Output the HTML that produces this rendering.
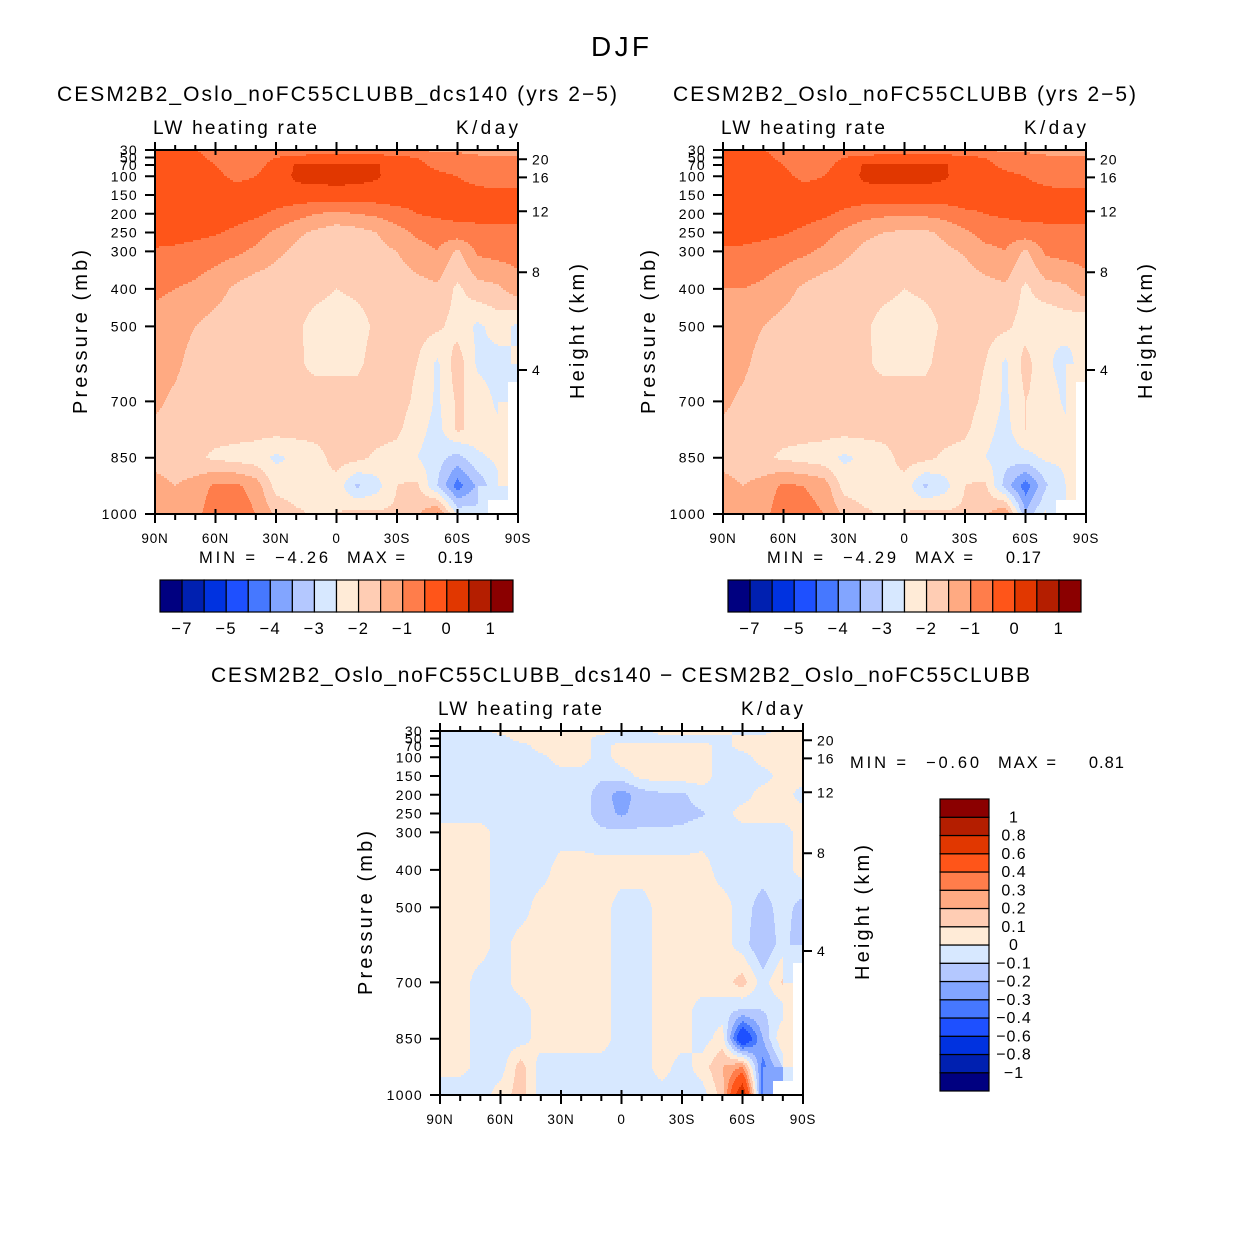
<!DOCTYPE html>
<html><head><meta charset="utf-8"><style>
html,body{margin:0;padding:0;background:#fff}
svg text{font-family:"Liberation Sans",sans-serif;fill:#000}
</style></head><body>
<svg id="fig" xmlns="http://www.w3.org/2000/svg" width="1242" height="1244" viewBox="0 0 1242 1244">
<rect x="0" y="0" width="1242" height="1244" fill="#fff"/>
<text x="591" y="56" font-size="28" textLength="58" lengthAdjust="spacing">DJF</text>
</svg>
<script>
const lats=[90,80,70,60,50,40,30,20,10,0,-10,-20,-30,-40,-50,-60,-70,-80,-90];
const levelsP=[30,50,70,100,150,200,250,300,400,500,600,700,775,850,925,1000];
const colors=["#000080","#0020b0","#0032e0","#1e50ff","#4678ff","#82a5ff","#b4c8ff","#d7e8ff","#ffebd7","#ffcdb4","#ffaa82","#ff7d4b","#ff5519","#e13700","#b41e00","#8b0000"];
const contourLevelsAbs=[-7,-6,-5,-4.5,-4,-3.5,-3,-2.5,-2,-1.5,-1,-0.5,0,0.5,1];
const contourLevelsDiff=[-1,-0.8,-0.6,-0.4,-0.3,-0.2,-0.1,0,0.1,0.2,0.3,0.4,0.6,0.8,1];
const absBarLabels=["−7","","−5","","−4","","−3","","−2","","−1","","0","","1"];
const diffBarLabels=["−1","−0.8","−0.6","−0.4","−0.3","−0.2","−0.1","0","0.1","0.2","0.3","0.4","0.6","0.8","1"];
const pTicks=[30,50,70,100,150,200,250,300,400,500,700,850,1000];
const hTicks=[20,16,12,8,4];
const latTicks=[90,60,30,0,-30,-60,-90];
const latTickLabels=["90N","60N","30N","0","30S","60S","90S"];
const N=NaN;
const fieldCtl=[
[-0.4,-0.4,-0.5,-0.6,-0.7,-0.8,-0.8,-0.8,-0.8,-0.8,-0.8,-0.8,-0.9,-1.0,-1.1,-1.1,-1.2,-1.2,-1.2],
[-0.3,-0.3,-0.4,-0.6,-0.7,-0.6,-0.5,-0.4,-0.3,-0.3,-0.3,-0.3,-0.4,-0.5,-0.7,-0.8,-0.9,-0.9,-0.9],
[-0.2,-0.2,-0.3,-0.5,-0.7,-0.6,-0.4,0.05,0.1,0.1,0.1,0.05,-0.3,-0.4,-0.6,-0.7,-0.8,-0.8,-0.8],
[-0.2,-0.2,-0.2,-0.4,-0.6,-0.5,-0.3,0.1,0.15,0.19,0.15,0.05,-0.2,-0.3,-0.4,-0.5,-0.6,-0.7,-0.7],
[-0.2,-0.2,-0.2,-0.2,-0.3,-0.3,-0.2,-0.2,-0.2,-0.2,-0.2,-0.2,-0.2,-0.3,-0.3,-0.4,-0.4,-0.4,-0.4],
[-0.2,-0.2,-0.25,-0.3,-0.3,-0.4,-0.6,-0.8,-1.0,-1.1,-1.0,-0.9,-0.7,-0.5,-0.4,-0.35,-0.3,-0.3,-0.3],
[-0.3,-0.3,-0.35,-0.45,-0.6,-0.8,-1.1,-1.4,-1.6,-1.8,-1.7,-1.5,-1.2,-0.9,-0.8,-0.7,-0.7,-0.7,-0.7],
[-0.55,-0.6,-0.7,-0.8,-0.9,-1.1,-1.4,-1.6,-1.8,-1.85,-1.8,-1.65,-1.5,-1.2,-1.0,-1.6,-0.9,-0.8,-0.8],
[-0.9,-1.0,-1.1,-1.3,-1.6,-1.8,-1.8,-1.8,-1.85,-2.0,-1.9,-1.8,-1.8,-1.7,-1.6,-2.1,-1.7,-1.6,-1.2],
[-1.2,-1.3,-1.5,-1.7,-1.8,-1.8,-1.8,-1.9,-2.2,-2.3,-2.2,-1.9,-1.8,-1.8,-1.9,-2.2,-2.6,-2.3,-2.6],
[-1.3,-1.4,-1.7,-1.8,-1.8,-1.8,-1.8,-1.9,-2.15,-2.2,-2.1,-1.8,-1.8,-2.0,-2.6,-1.7,-2.6,-2.7,-2.4],
[-1.4,-1.6,-1.8,-1.8,-1.8,-1.8,-1.8,-1.8,-1.7,-1.55,-1.8,-1.8,-1.8,-2.1,-2.6,-1.9,-2.2,-2.6,N],
[-1.6,-1.7,-1.8,-1.8,-1.8,-1.8,-1.8,-1.8,-1.8,-1.7,-1.8,-1.8,-1.9,-2.3,-2.7,-1.9,-2.2,-2.4,N],
[-1.7,-1.8,-1.9,-2.1,-2.2,-2.3,-2.6,-2.4,-2.2,-1.8,-1.85,-2.1,-2.2,-2.5,-2.8,-3.2,-2.6,-2.4,N],
[-1.3,-1.5,-1.3,-0.9,-0.9,-1.2,-2.2,-2.3,-2.1,-2.2,-3.1,-2.7,-2.0,-1.9,-3.0,-4.26,-3.4,-2.6,N],
[-1.3,-1.3,-1.2,-0.6,-0.7,-1.0,-1.6,-1.9,-2.1,-2.0,-1.8,-1.9,-1.9,-1.6,-0.9,-2.6,-2.8,N,N]];
const fieldExp=[
[-0.4,-0.4,-0.5,-0.6,-0.7,-0.8,-0.8,-0.8,-0.8,-0.8,-0.8,-0.8,-0.9,-1.0,-1.1,-1.1,-1.2,-1.2,-1.2],
[-0.3,-0.3,-0.4,-0.6,-0.7,-0.6,-0.5,-0.4,-0.3,-0.3,-0.3,-0.3,-0.4,-0.5,-0.7,-0.8,-0.9,-0.9,-0.9],
[-0.2,-0.2,-0.3,-0.5,-0.7,-0.6,-0.4,0.05,0.1,0.1,0.1,0.05,-0.3,-0.4,-0.6,-0.7,-0.8,-0.8,-0.8],
[-0.2,-0.2,-0.2,-0.4,-0.6,-0.5,-0.3,0.1,0.15,0.17,0.15,0.05,-0.2,-0.3,-0.4,-0.5,-0.6,-0.7,-0.7],
[-0.2,-0.2,-0.2,-0.2,-0.3,-0.3,-0.2,-0.2,-0.2,-0.2,-0.2,-0.2,-0.2,-0.3,-0.3,-0.4,-0.4,-0.4,-0.4],
[-0.2,-0.2,-0.25,-0.3,-0.3,-0.4,-0.6,-0.8,-0.9,-0.9,-0.9,-0.8,-0.6,-0.5,-0.4,-0.35,-0.3,-0.3,-0.3],
[-0.3,-0.3,-0.35,-0.45,-0.6,-0.8,-1.1,-1.4,-1.5,-1.6,-1.6,-1.4,-1.1,-0.8,-0.8,-0.7,-0.7,-0.7,-0.7],
[-0.6,-0.6,-0.7,-0.8,-0.9,-1.1,-1.4,-1.6,-1.75,-1.8,-1.75,-1.6,-1.45,-1.15,-1.0,-1.6,-0.9,-0.8,-0.8],
[-1.0,-1.0,-1.1,-1.3,-1.6,-1.8,-1.8,-1.8,-1.85,-2.0,-1.9,-1.8,-1.8,-1.7,-1.6,-2.1,-1.7,-1.6,-1.2],
[-1.2,-1.3,-1.5,-1.7,-1.8,-1.8,-1.8,-1.9,-2.2,-2.3,-2.2,-1.9,-1.8,-1.8,-1.9,-2.2,-2.5,-2.3,-2.5],
[-1.3,-1.4,-1.7,-1.8,-1.8,-1.8,-1.8,-1.9,-2.15,-2.2,-2.1,-1.8,-1.8,-2.0,-2.6,-1.8,-2.4,-2.7,-2.2],
[-1.4,-1.6,-1.8,-1.8,-1.8,-1.8,-1.8,-1.8,-1.7,-1.55,-1.8,-1.8,-1.8,-2.1,-2.6,-2.0,-2.2,-2.6,N],
[-1.6,-1.7,-1.8,-1.8,-1.8,-1.8,-1.8,-1.8,-1.8,-1.7,-1.8,-1.8,-1.9,-2.3,-2.7,-2.0,-2.1,-2.4,N],
[-1.7,-1.8,-1.9,-2.1,-2.2,-2.3,-2.6,-2.4,-2.2,-1.8,-1.85,-2.1,-2.2,-2.5,-2.8,-2.7,-2.4,-2.4,N],
[-1.3,-1.5,-1.3,-0.9,-1.0,-1.2,-2.2,-2.3,-2.1,-2.2,-3.1,-2.7,-2.0,-1.9,-3.2,-4.29,-3.1,-2.5,N],
[-1.2,-1.2,-1.2,-0.6,-0.8,-1.0,-1.6,-1.9,-2.1,-2.0,-1.8,-1.9,-1.9,-1.6,-1.0,-3.4,-2.4,N,N]];
const fieldDiff=[
[-0.05,-0.05,-0.05,0.05,0.05,0.05,0.05,0.05,0.05,-0.05,-0.05,0.05,0.05,0.05,0.05,-0.05,-0.05,0.05,0.05],
[-0.05,-0.05,-0.05,-0.05,0.05,0.05,0.05,0.05,-0.05,-0.05,-0.05,-0.05,-0.05,-0.05,-0.05,0.05,0.05,0.05,0.05],
[-0.05,-0.05,-0.05,-0.05,-0.05,0.05,0.05,0.05,-0.05,0.05,0.05,0.05,0.05,0.05,-0.05,0.05,0.05,0.05,0.05],
[-0.05,-0.05,-0.05,-0.05,-0.05,-0.03,0.05,0.05,-0.05,0.05,0.05,0.05,0.05,0.05,-0.05,-0.05,0.05,0.05,0.05],
[-0.05,-0.05,-0.05,-0.05,-0.05,-0.05,-0.05,-0.05,-0.08,-0.05,0.03,0.05,0.05,0.05,-0.05,-0.05,-0.05,0.05,0.05],
[-0.05,-0.05,-0.05,-0.05,-0.05,-0.05,-0.05,-0.05,-0.15,-0.25,-0.15,-0.12,-0.12,-0.05,-0.05,-0.05,0.05,0.05,-0.05],
[-0.05,-0.05,-0.05,-0.05,-0.05,-0.05,-0.05,-0.05,-0.15,-0.22,-0.15,-0.15,-0.13,-0.11,-0.05,0.05,0.05,0.05,0.05],
[0.05,0.05,0.05,-0.05,-0.05,-0.05,-0.05,-0.05,-0.08,-0.08,-0.08,-0.08,-0.08,-0.05,-0.05,-0.05,-0.05,-0.05,0.05],
[0.05,0.05,0.05,-0.05,-0.05,-0.05,0.05,0.05,0.05,0.05,0.05,0.05,0.05,0.05,-0.05,-0.05,-0.05,-0.05,0.05],
[0.05,0.05,0.05,-0.05,-0.05,0.05,0.05,0.05,0.05,-0.05,-0.05,0.05,0.05,0.05,0.05,-0.05,-0.15,-0.05,-0.15],
[0.05,0.05,0.05,-0.05,0.05,0.05,0.05,0.05,0.05,-0.05,-0.05,0.05,0.05,0.05,0.05,-0.05,-0.2,-0.05,-0.2],
[0.05,0.05,-0.05,-0.05,0.05,0.05,0.05,0.05,0.05,-0.05,-0.05,0.05,0.05,0.05,0.05,0.15,-0.05,0.12,N],
[0.05,0.05,-0.05,-0.05,-0.05,0.05,0.05,0.05,0.05,-0.05,-0.05,0.05,0.05,-0.05,-0.05,-0.12,-0.1,-0.05,N],
[0.05,0.05,-0.05,-0.05,-0.05,0.05,0.05,0.05,0.05,-0.05,-0.05,0.05,0.05,-0.05,0.05,-0.6,-0.2,0.1,N],
[0.05,0.05,-0.05,-0.05,0.15,-0.05,-0.05,-0.05,-0.05,-0.05,-0.05,0.05,-0.05,0.05,0.2,0.3,-0.35,-0.1,N],
[-0.1,-0.1,-0.05,0.05,0.15,-0.05,-0.05,-0.05,-0.05,-0.05,-0.05,-0.05,-0.05,-0.05,0.15,0.81,-0.4,N,N]];

const NS="http://www.w3.org/2000/svg";
const fig=document.getElementById('fig');
function mk(tag,attrs,parent){const e=document.createElementNS(NS,tag);for(const k in attrs)e.setAttribute(k,attrs[k]);(parent||fig).appendChild(e);return e;}
function txt(x,y,s,size,anchor,parent,name,len,ls){const a={x:x,y:y,'font-size':size,'text-anchor':anchor||'start'};
  if(len){a.textLength=len;a.lengthAdjust='spacing';}
  if(ls)a['letter-spacing']=ls;
  const t=mk('text',a,parent);t.textContent=s;


return t;}
const PW=363,PH=364;
function makeScales(x0,y0){return {x:lat=>x0+(90-lat)/180*PW, y:p=>y0+(p-30)/970*PH};}
function heightToP(z){return z<=11?1013.25*Math.pow(1-z/44.3,5.256):226.3*Math.exp(-(z-11)/6.34);}
function sample(grid,lat,p){
  let fi=(90-lat)/10; let i0=Math.min(17,Math.max(0,Math.floor(fi))); let tx=fi-i0;
  let k=0; while(k<levelsP.length-2 && p>levelsP[k+1])k++;
  let ty=(p-levelsP[k])/(levelsP[k+1]-levelsP[k]);
  const a=grid[k][i0],b=grid[k][i0+1],c=grid[k+1][i0],d=grid[k+1][i0+1];
  if(isNaN(a)||isNaN(b)||isNaN(c)||isNaN(d)){
    const nv=grid[ty<0.5?k:k+1][tx<0.5?i0:i0+1]; if(isNaN(nv))return NaN;
    const vals=[a,b,c,d].filter(v=>!isNaN(v)); return vals.reduce((s,v)=>s+v,0)/vals.length;
  }
  return (a*(1-tx)+b*tx)*(1-ty)+(c*(1-tx)+d*tx)*ty;
}
function colorIdx(v,lev){let i=0;while(i<lev.length&&v>=lev[i])i++;return i;}
function drawPanel(cfg){
  const g=mk('g',{});
  
  
  const s=makeScales(cfg.x0,cfg.y0);
  const field=mk('g',{},g);
  
  
  const step=2;
  for(let py=0;py<PH;py+=step){
    const p=30+(py+step/2)/PH*970;
    let runStart=0,runC=null;
    for(let px=0;px<=PW;px++){
      let c=null;
      if(px<PW){const lat=90-(px+0.5)/PW*180;const v=sample(cfg.grid,lat,p);c=isNaN(v)?'#ffffff':colors[colorIdx(v,cfg.levels)];}
      if(c!==runC){
        if(runC!==null){const r=mk('rect',{x:cfg.x0+runStart,y:cfg.y0+py,width:px-runStart+0.6,height:step+0.6,fill:runC},field);
          
          }
        runStart=px;runC=c;
      }
    }
  }
  const fr=mk('rect',{x:cfg.x0,y:cfg.y0,width:PW,height:PH,fill:'none',stroke:'#000','stroke-width':2},g);
  
  
  let d='';
  for(let lat=90;lat>=-90;lat-=10){const x=s.x(lat);const major=lat%30===0;
    d+=`M${x},${cfg.y0+PH+(major?9:6)}V${cfg.y0+PH-(major?5:0)}M${x},${cfg.y0-(major?8:5)}V${cfg.y0+(major?5:0)}`;}
  pTicks.forEach(p=>{const y=s.y(p);d+=`M${cfg.x0-10},${y}H${cfg.x0}`;});
  hTicks.forEach(z=>{const y=s.y(heightToP(z));d+=`M${cfg.x0+PW},${y}H${cfg.x0+PW+9}`;});
  const tk=mk('path',{d:d,stroke:'#000','stroke-width':2,fill:'none'},g);
  
  
  latTicks.forEach((lat,i)=>txt(s.x(lat),cfg.y0+PH+29,latTickLabels[i],13.5,'middle',g,'x-tick-label',null,0.8));
  pTicks.forEach(p=>txt(cfg.x0-17,s.y(p)+5,String(p),14,'end',g,'y-tick-label',null,1.3));
  hTicks.forEach(z=>txt(cfg.x0+PW+14,s.y(heightToP(z))+5,String(z),14,'start',g,'height-tick-label',null,1));
  const yl=txt(-82,0,'Pressure (mb)',20,'start',g,'y-axis-title',164);yl.setAttribute('transform',`translate(${cfg.x0-68},${cfg.y0+182}) rotate(-90)`);
  const hl=txt(-67,0,'Height (km)',20,'start',g,'height-axis-title',135);hl.setAttribute('transform',`translate(${cfg.x0+PW+66},${cfg.y0+182}) rotate(-90)`);
  txt(cfg.x0-2,cfg.y0-16,'LW heating rate',19,'start',g,'variable-label',164);
  txt(cfg.x0+PW-62,cfg.y0-16,'K/day',19,'start',g,'units-label',62);
  txt(cfg.tx,cfg.ty,cfg.title,21,'start',g,'panel-title',cfg.tw);
  return g;
}
drawPanel({name:'panel-control-dcs140',grid:fieldCtl,levels:contourLevelsAbs,x0:155,y0:150,tx:57,tw:560,ty:101,title:'CESM2B2_Oslo_noFC55CLUBB_dcs140 (yrs 2−5)'});
drawPanel({name:'panel-noFC55CLUBB',grid:fieldExp,levels:contourLevelsAbs,x0:723,y0:150,tx:673,tw:463,ty:101,title:'CESM2B2_Oslo_noFC55CLUBB (yrs 2−5)'});
drawPanel({name:'panel-difference',grid:fieldDiff,levels:contourLevelsDiff,x0:440,y0:731,tx:211,tw:819,ty:682,title:'CESM2B2_Oslo_noFC55CLUBB_dcs140 − CESM2B2_Oslo_noFC55CLUBB'});
function minmax(x,y,mn,mx){
  txt(x,y,'MIN =',16.5,'start',fig,'min-label',56);
  txt(x+76,y,mn,16.5,'start',fig,'min-value',53);
  txt(x+148,y,'MAX =',16.5,'start',fig,'max-label',58);
  txt(x+275,y,mx,16.5,'end',fig,'max-value',null,1);
}
minmax(199,563,'−4.26','0.19');
minmax(767,563,'−4.29','0.17');
minmax(850,768,'−0.60','0.81');
function hbar(x0,name){
  const g=mk('g',{});
  
  
  const w=353/16;
  colors.forEach((c,i)=>{const r=mk('rect',{x:x0+i*w,y:580,width:w,height:32,fill:c,stroke:'#000','stroke-width':1.2},g);
    
    });
  absBarLabels.forEach((l,i)=>{if(l)txt(x0+(i+1)*w,634,l,16.5,'middle',g,'colorbar-label',null,1.5);});
}
hbar(160,'colorbar-left');hbar(728,'colorbar-right');
(function(){
  const g=mk('g',{});
  
  
  const h=292/16;
  colors.forEach((c,i)=>{const r=mk('rect',{x:940,y:799+(15-i)*h,width:49,height:h,fill:c,stroke:'#000','stroke-width':1.2},g);
    
    });
  diffBarLabels.forEach((l,i)=>{txt(1014,799+(15-i)*h+5,l,16,'middle',g,'colorbar-label',null,1);});
})();
</script>
</body></html>
